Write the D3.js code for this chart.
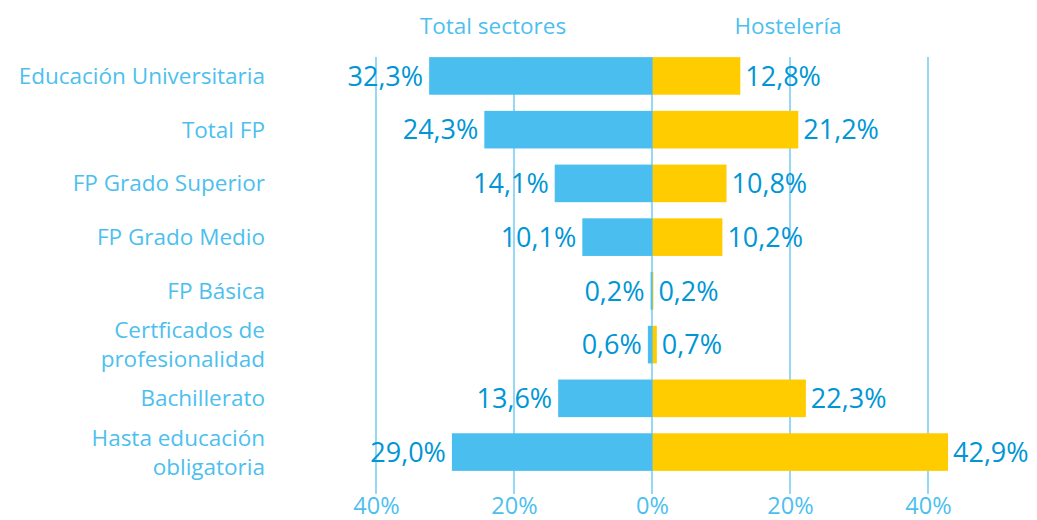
<!DOCTYPE html>
<html><head><meta charset="utf-8">
<script src="https://cdn.jsdelivr.net/npm/d3@7"></script>
<style>body{margin:0;background:#fff}svg{display:block}</style>
</head><body>
<svg id="c" width="1037" height="520"></svg>
<script>
const categories = [["Educación Universitaria"],["Total FP"],["FP Grado Superior"],["FP Grado Medio"],["FP Básica"],["Certficados de","profesionalidad"],["Bachillerato"],["Hasta educación","obligatoria"]];
const totalSectores = [32.3,24.3,14.1,10.1,0.2,0.6,13.6,29.0];
const hosteleria = [12.8,21.2,10.8,10.2,0.2,0.7,22.3,42.9];
const seriesNames = ["Total sectores","Hostelería"];
const tickValues = [-40,-20,0,20,40];

const svg = d3.select("#c");
const font = "'Open Sans', 'Noto Sans', sans-serif";
const light = "#4DBFEF", dark = "#0096D6", blueBar = "#4BBEF0", yellow = "#FFCC00";
const x = d3.scaleLinear().domain([-40,40]).range([376,928]);
const keys = categories.map((c,i)=>i);
const y = d3.scaleBand().domain(keys).range([41,487]).padding(0.3);

// grid
svg.append("g").selectAll("line").data(tickValues.filter(v=>v!==0)).join("line")
 .attr("x1",d=>x(d)).attr("x2",d=>x(d)).attr("y1",57).attr("y2",494)
 .attr("stroke",light).attr("stroke-width",1.2);

// bars
svg.append("g").selectAll("rect").data(totalSectores).join("rect")
 .attr("x",d=>x(-d)).attr("width",d=>x(0)-x(-d)).attr("y",(d,i)=>y(i)).attr("height",y.bandwidth())
 .attr("fill",blueBar);
svg.append("g").selectAll("rect").data(hosteleria).join("rect")
 .attr("x",x(0)).attr("width",d=>x(d)-x(0)).attr("y",(d,i)=>y(i)).attr("height",y.bandwidth())
 .attr("fill",yellow);

// zero line
svg.append("line").attr("x1",x(0)).attr("x2",x(0)).attr("y1",57).attr("y2",494)
 .attr("stroke",light).attr("stroke-width",1.2);

const fmt = v => d3.format(".1f")(v).replace(".",",")+"%";
// value labels
svg.append("g").selectAll("text").data(totalSectores).join("text")
 .attr("x",d=>x(-d)-6).attr("y",(d,i)=>y(i)+y.bandwidth()/2).attr("dy","0.36em")
 .attr("text-anchor","end").attr("font-family",font).attr("font-size",27).attr("font-weight",500)
 .attr("fill",dark).text(fmt);
svg.append("g").selectAll("text").data(hosteleria).join("text")
 .attr("x",d=>x(d)+5).attr("y",(d,i)=>y(i)+y.bandwidth()/2).attr("dy","0.36em")
 .attr("text-anchor","start").attr("font-family",font).attr("font-size",27).attr("font-weight",500)
 .attr("fill",dark).text(fmt);

// category labels
const cg = svg.append("g");
categories.forEach((lines,i)=>{
  const cy = y(i)+y.bandwidth()/2;
  const t = cg.append("text").attr("text-anchor","end").attr("font-family",font).attr("font-size",22.5)
    .attr("fill",light);
  lines.forEach((l,j)=>{
    t.append("tspan").attr("x",265).attr("y",cy + (j-(lines.length-1)/2)*29).attr("dy","0.36em").text(l);
  });
});

// series titles
svg.append("text").attr("x",493).attr("y",26).attr("dy","0.36em").attr("text-anchor","middle")
 .attr("font-family",font).attr("font-size",22.5).attr("fill",light).text(seriesNames[0]);
svg.append("text").attr("x",788).attr("y",26).attr("dy","0.36em").attr("text-anchor","middle")
 .attr("font-family",font).attr("font-size",22.5).attr("fill",light).text(seriesNames[1]);

// axis
const axis = d3.axisBottom(x).tickValues(tickValues).tickSize(0).tickFormat(d=>Math.abs(d)+"%");
const ag = svg.append("g").attr("transform","translate(0,495)").call(axis);
ag.select(".domain").remove();
ag.selectAll("text").attr("font-family",font).attr("font-size",23.5).attr("fill",light).attr("dy","0.71em").attr("y",2);
</script>
</body></html>
